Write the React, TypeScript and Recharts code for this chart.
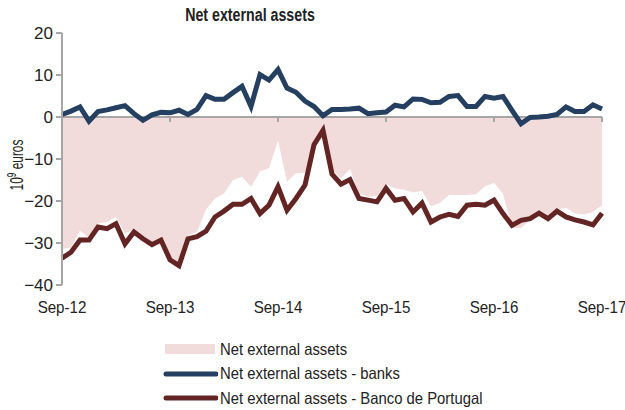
import { Area, ComposedChart, Line, ReferenceLine, XAxis, YAxis } from "recharts";

const months = [
  "Sep-12", "Oct-12", "Nov-12", "Dec-12", "Jan-13", "Feb-13", "Mar-13", "Apr-13", "May-13", "Jun-13", "Jul-13", "Aug-13",
  "Sep-13", "Oct-13", "Nov-13", "Dec-13", "Jan-14", "Feb-14", "Mar-14", "Apr-14", "May-14", "Jun-14", "Jul-14", "Aug-14",
  "Sep-14", "Oct-14", "Nov-14", "Dec-14", "Jan-15", "Feb-15", "Mar-15", "Apr-15", "May-15", "Jun-15", "Jul-15", "Aug-15",
  "Sep-15", "Oct-15", "Nov-15", "Dec-15", "Jan-16", "Feb-16", "Mar-16", "Apr-16", "May-16", "Jun-16", "Jul-16", "Aug-16",
  "Sep-16", "Oct-16", "Nov-16", "Dec-16", "Jan-17", "Feb-17", "Mar-17", "Apr-17", "May-17", "Jun-17", "Jul-17", "Aug-17",
  "Sep-17",
];

// 10^9 euros
const netExternal = [
  -31.5, -31.0, -27.0, -28.8, -25.3, -25.0, -23.8, -27.7, -26.9, -28.2, -29.8, -29.3,
  -33.3, -35.0, -28.2, -27.4, -22.0, -19.4, -18.2, -15.0, -14.2, -16.6, -13.0, -12.2,
  -5.6, -15.4, -13.4, -13.3, -6.0, -3.0, -12.5, -14.6, -12.4, -18.2, -19.0, -18.8,
  -16.0, -17.0, -17.3, -18.0, -17.6, -21.3, -20.4, -18.6, -18.6, -18.6, -18.4, -16.5,
  -15.7, -18.2, -26.5, -26.4, -24.6, -22.6, -23.8, -22.0, -21.6, -23.0, -23.2, -22.6,
  -21.0,
];

const banks = [
  0.6, 1.4, 2.4, -1.0, 1.3, 1.7, 2.2, 2.7, 0.8, -0.8, 0.5, 1.1,
  1.0, 1.6, 0.6, 1.8, 5.1, 4.2, 4.2, 5.8, 7.3, 2.5, 10.1, 8.8,
  11.3, 6.9, 5.9, 3.8, 2.5, 0.3, 1.8, 1.8, 1.9, 2.1, 0.8, 1.0,
  1.2, 2.8, 2.4, 4.3, 4.2, 3.4, 3.5, 4.9, 5.1, 2.5, 2.5, 4.9,
  4.5, 4.9, 1.6, -1.6, -0.1, 0.0, 0.2, 0.6, 2.4, 1.3, 1.3, 2.9,
  1.9,
];

const bancoDePortugal = [
  -33.6, -32.2, -29.3, -29.3, -26.2, -26.6, -25.4, -30.2, -27.4, -29.0, -30.4, -29.3,
  -34.0, -35.4, -29.0, -28.5, -27.2, -23.8, -22.4, -20.8, -20.8, -19.4, -23.0, -21.0,
  -16.6, -22.2, -19.4, -16.2, -6.6, -3.2, -13.6, -16.0, -14.9, -19.4, -19.8, -20.2,
  -17.0, -19.8, -19.4, -22.6, -20.5, -25.0, -23.8, -23.2, -23.7, -21.0, -20.8, -21.0,
  -19.8, -23.0, -25.8, -24.6, -24.2, -22.9, -24.2, -22.4, -23.8, -24.5, -25.0, -25.7,
  -22.9,
];

const xTicks = ["Sep-12", "Sep-13", "Sep-14", "Sep-15", "Sep-16", "Sep-17"];
const yTicks = [-40, -30, -20, -10, 0, 10, 20];
const seriesNames = [
  "Net external assets",
  "Net external assets - banks",
  "Net external assets - Banco de Portugal",
];

const PINK = "#f2dcdb";
const BLUE = "#243f60";
const RED = "#632523";
const GREY = "#a6a6a6";
const TEXT = "#222";
const FONT = "'Liberation Sans', Arial, sans-serif";

const data = months.map((month, i) => ({
  month,
  total: netExternal[i],
  banks: banks[i],
  bdp: bancoDePortugal[i],
}));

// the original uses a condensed face; squeeze Liberation Sans instead
function XTick({ x, y, payload }: any) {
  return (
    <g transform={`translate(${x},${y}) scale(0.89,1)`}>
      <text x={0} y={0} dy="0.71em" textAnchor="middle" fontSize={17} fill={TEXT}>
        {payload.value}
      </text>
    </g>
  );
}

function YLabel({ viewBox }: any) {
  const x = 23;
  const y = viewBox.y + viewBox.height / 2 + 6;
  return (
    <g transform={`translate(${x},${y}) rotate(-90) scale(0.68,1)`}>
      <text x={0} y={0} textAnchor="middle" fontSize={17.5} fill={TEXT}>
        10<tspan dy={-7} fontSize={12}>9</tspan>
        <tspan dy={7}> euros</tspan>
      </text>
    </g>
  );
}

export default function App() {
  return (
    <div style={{ position: "absolute", left: 0, top: 0, width: 625, height: 410, background: "#fff", fontFamily: FONT, overflow: "hidden" }}>
      <div
        style={{
          position: "absolute", left: 150, width: 200, top: 5, textAlign: "center",
          fontWeight: "bold", fontSize: 18, color: TEXT, transform: "scaleX(0.79)",
        }}
      >
        Net external assets
      </div>
      <ComposedChart width={625} height={410} data={data} margin={{ top: 33, right: 23, left: 0, bottom: 95 }}>
        <XAxis dataKey="month" ticks={xTicks} interval={0} axisLine={false} tickLine={false} tickMargin={10} tick={<XTick />} />
        <YAxis
          domain={[-40, 20]}
          ticks={yTicks}
          width={62}
          tickSize={6}
          tickMargin={3}
          axisLine={{ stroke: GREY, strokeWidth: 2 }}
          tickLine={{ stroke: GREY, strokeWidth: 2 }}
          tick={{ fill: TEXT, fontSize: 17 }}
          tickFormatter={(v: number) => String(v).replace("-", "\u2212")}
          label={<YLabel />}
        />
        <Area dataKey="total" type="linear" baseValue={0} fill={PINK} fillOpacity={1} stroke="none" isAnimationActive={false} />
        <ReferenceLine y={0} stroke={GREY} strokeWidth={2} />
        {xTicks.slice(1).map((t) => (
          <ReferenceLine key={t} segment={[{ x: t, y: 0 }, { x: t, y: -1.2 }]} stroke={GREY} strokeWidth={2} />
        ))}
        <Line dataKey="banks" type="linear" stroke={BLUE} strokeWidth={5} dot={false} isAnimationActive={false} />
        <Line dataKey="bdp" type="linear" stroke={RED} strokeWidth={5} dot={false} isAnimationActive={false} />
      </ComposedChart>
      {seriesNames.map((name, i) => (
        <div
          key={name}
          style={{ position: "absolute", left: 163, top: 338 + i * 24.5, height: 22, display: "flex", alignItems: "center", fontSize: 16.5, color: TEXT }}
        >
          <svg width={55} height={22}>
            {i === 0 ? (
              <rect x={2} y={6} width={50} height={10} fill={PINK} />
            ) : (
              <line x1={3} y1={11} x2={53} y2={11} stroke={i === 1 ? BLUE : RED} strokeWidth={5} strokeLinecap="round" />
            )}
          </svg>
          <span style={{ marginLeft: 2, display: "inline-block", transform: "scaleX(0.9)", transformOrigin: "left center", whiteSpace: "nowrap" }}>
            {name}
          </span>
        </div>
      ))}
    </div>
  );
}
